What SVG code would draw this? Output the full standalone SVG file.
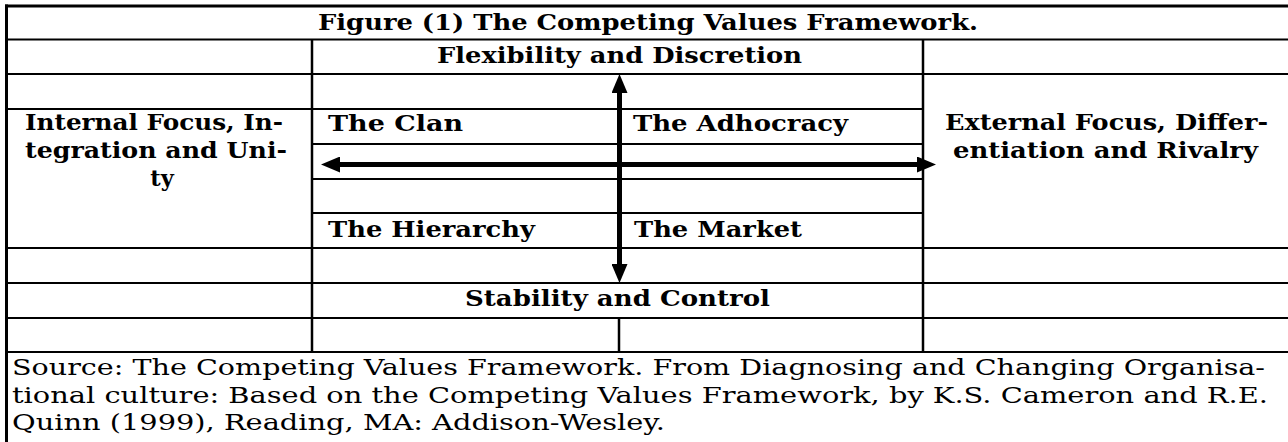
<svg xmlns="http://www.w3.org/2000/svg" width="1288" height="442" viewBox="0 0 1288 442">
<style>
.h{font-family:"DejaVu Serif","Liberation Serif",serif;font-weight:bold;font-size:22.5px;fill:#000}
.s{font-family:"DejaVu Serif","Liberation Serif",serif;font-weight:normal;font-size:23px;fill:#000}
.ln{stroke:#000;stroke-width:2;fill:none}
.bd{stroke:#000;stroke-width:3;fill:none}
.dv{stroke:#000;stroke-width:2.5;fill:none}
.ar{stroke:#000;stroke-width:5;fill:none;marker-start:url(#head);marker-end:url(#head)}
</style>
<defs>
<marker id="head" markerUnits="userSpaceOnUse" markerWidth="19" markerHeight="16" refX="0" refY="8" orient="auto-start-reverse" viewBox="0 0 19 16">
<path d="M0,0 L19,8 L0,16 Z" fill="#000"/>
</marker>
</defs>
<rect x="0" y="0" width="1288" height="442" fill="#fff"/>
<g id="grid">
<line class="bd" x1="5" y1="6" x2="1288" y2="6"/>
<line class="bd" x1="6.5" y1="4.5" x2="6.5" y2="442"/>
<line class="ln" x1="5" y1="39.5" x2="1288" y2="39.5"/>
<line class="ln" x1="5" y1="74" x2="1288" y2="74"/>
<line class="ln" x1="5" y1="109" x2="923" y2="109"/>
<line class="ln" x1="312" y1="144" x2="923" y2="144"/>
<line class="ln" x1="312" y1="179" x2="923" y2="179"/>
<line class="ln" x1="312" y1="213" x2="923" y2="213"/>
<line class="ln" x1="5" y1="248" x2="1288" y2="248"/>
<line class="ln" x1="5" y1="283" x2="1288" y2="283"/>
<line class="ln" x1="5" y1="318" x2="1288" y2="318"/>
<line class="ln" x1="5" y1="352" x2="1288" y2="352"/>
<line class="dv" x1="312" y1="39.5" x2="312" y2="352"/>
<line class="dv" x1="923" y1="39.5" x2="923" y2="352"/>
<line class="dv" x1="619" y1="318" x2="619" y2="352"/>
</g>
<g id="title"><text class="h" x="318" y="30" textLength="660" lengthAdjust="spacingAndGlyphs">Figure (1) The Competing Values Framework.</text></g>
<g id="flexibility"><text class="h" x="437" y="63" textLength="365" lengthAdjust="spacingAndGlyphs">Flexibility and Discretion</text></g>
<g id="internal">
<text class="h" x="25" y="130" textLength="258" lengthAdjust="spacingAndGlyphs">Internal Focus, In-</text>
<text class="h" x="25" y="158" textLength="262" lengthAdjust="spacingAndGlyphs">tegration and Uni-</text>
<text class="h" x="162" y="186" text-anchor="middle">ty</text>
</g>
<g id="clan"><text class="h" x="328" y="131" textLength="135" lengthAdjust="spacingAndGlyphs">The Clan</text></g>
<g id="adhocracy"><text class="h" x="633" y="131" textLength="215" lengthAdjust="spacingAndGlyphs">The Adhocracy</text></g>
<g id="external">
<text class="h" x="945" y="130" textLength="323" lengthAdjust="spacingAndGlyphs">External Focus, Differ-</text>
<text class="h" x="953" y="158" textLength="305" lengthAdjust="spacingAndGlyphs">entiation and Rivalry</text>
</g>
<g id="hierarchy"><text class="h" x="328" y="237" textLength="207" lengthAdjust="spacingAndGlyphs">The Hierarchy</text></g>
<g id="market"><text class="h" x="634" y="237" textLength="168" lengthAdjust="spacingAndGlyphs">The Market</text></g>
<g id="stability"><text class="h" x="465" y="306" textLength="305" lengthAdjust="spacingAndGlyphs">Stability and Control</text></g>
<g id="source">
<text class="s" x="12" y="375" textLength="1253" lengthAdjust="spacingAndGlyphs">Source: The Competing Values Framework. From Diagnosing and Changing Organisa-</text>
<text class="s" x="12" y="403" textLength="1256" lengthAdjust="spacingAndGlyphs">tional culture: Based on the Competing Values Framework, by K.S. Cameron and R.E.</text>
<text class="s" x="12" y="430" textLength="653" lengthAdjust="spacingAndGlyphs">Quinn (1999), Reading, MA: Addison-Wesley.</text>
</g>
<g id="connectors">
<line class="ar" x1="619.5" y1="264" x2="619.5" y2="93"/>
<line class="ar" x1="917" y1="164.5" x2="340" y2="164.5"/>
</g>
</svg>
